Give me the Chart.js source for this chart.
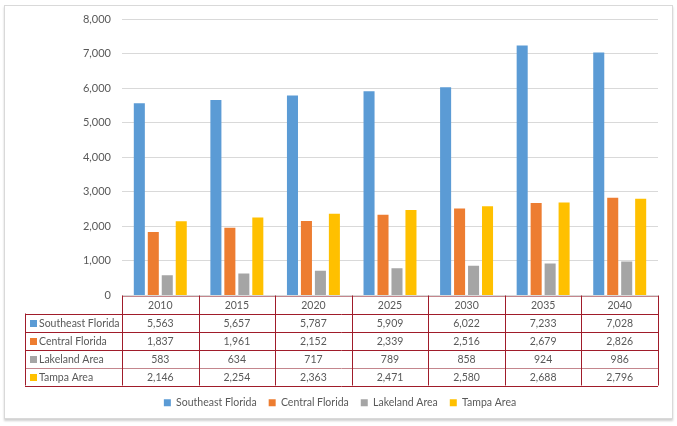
<!DOCTYPE html>
<html>
<head>
<meta charset="utf-8">
<script src="https://cdn.jsdelivr.net/npm/chart.js@4.4.1/dist/chart.umd.min.js"></script>
<style>
  html, body { margin: 0; padding: 0; background: #fff; }
  #frame {
    position: absolute; left: 4px; top: 5px; width: 667px; height: 412px;
    border: 1px solid #d9d9d9; box-shadow: 0 2px 2px #d0d0d0;
  }
  #wrap { position: absolute; left: 0; top: 0; width: 677px; height: 426px; }
</style>
</head>
<body>
<div id="frame"></div>
<div id="wrap"><canvas id="chart" width="677" height="426"></canvas></div>
<script>
// ── Data ───────────────────────────────────────────────────
const years = ['2010', '2015', '2020', '2025', '2030', '2035', '2040'];
const southeastFlorida = [5563, 5657, 5787, 5909, 6022, 7233, 7028];
const centralFlorida   = [1837, 1961, 2152, 2339, 2516, 2679, 2826];
const lakelandArea     = [583, 634, 717, 789, 858, 924, 986];
const tampaArea        = [2146, 2254, 2363, 2471, 2580, 2688, 2796];
const yTicks = [0, 1000, 2000, 3000, 4000, 5000, 6000, 7000, 8000];

const FONT = "Lato, 'Liberation Sans', sans-serif";
const TEXT = '#595959';
const RED  = '#a01c2a';
const fmt = v => v.toLocaleString('en-US');

// ── Data table drawn under the plot, aligned to x scale ────
const dataTable = {
  id: 'dataTable',
  afterDraw(chart) {
    const ctx = chart.ctx;
    const area = chart.chartArea;
    const colW = (area.right - area.left) / years.length;
    const rowH = 18;
    const top = area.bottom;
    const tableLeft = 25;
    const ds = chart.data.datasets;
    const bottom = top + rowH * (ds.length + 1);

    ctx.save();
    ctx.lineWidth = 1;

    // horizontal lines
    for (let r = 0; r <= ds.length + 1; r++) {
      const y = Math.round(top + r * rowH) + 0.5;
      ctx.strokeStyle = (r === 0 || r === 4) ? '#c4868d' : RED;
      ctx.beginPath();
      ctx.moveTo(r === 0 ? area.left : tableLeft, y);
      ctx.lineTo(area.right, y);
      ctx.stroke();
    }
    // vertical lines
    ctx.strokeStyle = RED;
    for (let c = 0; c <= years.length; c++) {
      const x = Math.round(area.left + c * colW) + 0.5;
      ctx.beginPath();
      ctx.moveTo(x, top);
      ctx.lineTo(x, bottom);
      ctx.stroke();
    }
    ctx.beginPath();
    ctx.moveTo(tableLeft + 0.5, top + rowH);
    ctx.lineTo(tableLeft + 0.5, bottom);
    ctx.stroke();

    // texts
    ctx.font = '10.5px ' + FONT;
    ctx.fillStyle = TEXT;
    ctx.textBaseline = 'middle';
    ctx.textAlign = 'center';
    years.forEach((yr, c) => {
      ctx.fillText(yr, area.left + (c + 0.5) * colW, top + rowH / 2 + 1);
    });
    ds.forEach((d, r) => {
      const yMid = top + (r + 1.5) * rowH + 1;
      ctx.fillStyle = d.backgroundColor;
      ctx.fillRect(30, Math.round(yMid - 4), 7, 7);
      ctx.fillStyle = TEXT;
      ctx.textAlign = 'left';
      ctx.fillText(d.label, 39, yMid);
      ctx.textAlign = 'center';
      d.data.forEach((v, c) => {
        ctx.fillText(fmt(v), area.left + (c + 0.5) * colW, yMid);
      });
    });
    ctx.restore();
  }
};

// ── Chart ──────────────────────────────────────────────────
const series = [
  { label: 'Southeast Florida', data: southeastFlorida, color: '#5b9bd5' },
  { label: 'Central Florida',   data: centralFlorida,   color: '#ed7d31' },
  { label: 'Lakeland Area',     data: lakelandArea,     color: '#a5a5a5' },
  { label: 'Tampa Area',        data: tampaArea,        color: '#ffc000' },
];

new Chart(document.getElementById('chart'), {
  type: 'bar',
  data: {
    labels: years,
    datasets: series.map(s => ({
      label: s.label,
      data: s.data,
      backgroundColor: s.color,
      borderWidth: 0,
      categoryPercentage: 0.73,
      barPercentage: 0.79,
    })),
  },
  options: {
    responsive: false,
    animation: false,
    layout: { padding: { left: 22, right: 19, top: 19, bottom: 8 } },
    plugins: {
      tooltip: { enabled: false },
      legend: {
        position: 'bottom',
        labels: {
          boxWidth: 7,
          boxHeight: 7,
          padding: 12,
          color: '#595959',
          font: { family: FONT, size: 10.5 },
        },
      },
    },
    scales: {
      x: {
        grid: { display: false },
        border: { display: false },
        ticks: { display: false },
        afterFit: s => { s.height = 90; }, // room for the data table
      },
      y: {
        min: 0,
        max: 8000,
        afterBuildTicks: s => { s.ticks = yTicks.map(v => ({ value: v })); },
        grid: { color: '#d9d9d9', drawTicks: false },
        border: { display: false },
        ticks: {
          padding: 11,
          color: '#595959',
          font: { family: FONT, size: 11 },
          callback: v => fmt(v),
        },
        afterFit: s => { s.width = 100; },
      },
    },
  },
  plugins: [dataTable],
});
</script>
</body>
</html>
